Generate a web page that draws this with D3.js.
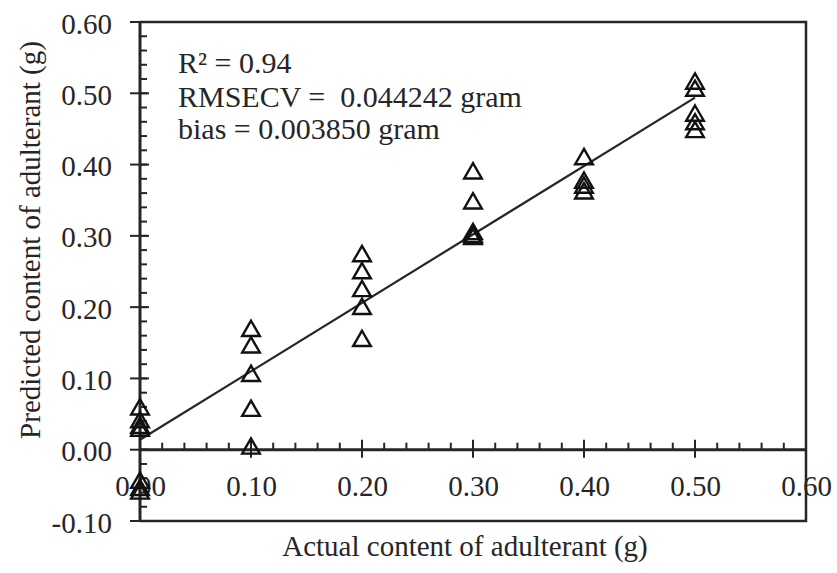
<!DOCTYPE html>
<html>
    <head>
        <meta charset="utf-8">
        <script src="https://d3js.org/d3.v7.min.js"></script>
    </head>
    <body style="margin:0;background:#fff">
        <script>
            // actual content (g) for each group of predictions
            var actual = [0.00, 0.10, 0.20, 0.30, 0.40, 0.50];
            // predicted values, one list per actual level
            var predicted = [
                [0.058, 0.040, 0.032, 0.028, -0.045, -0.055, -0.060],
                [0.168, 0.145, 0.105, 0.056, 0.003],
                [0.273, 0.249, 0.224, 0.199, 0.154],
                [0.389, 0.347, 0.304, 0.300, 0.297],
                [0.409, 0.376, 0.369, 0.361],
                [0.515, 0.505, 0.470, 0.458, 0.447]
            ];
            var fitLine = [[0.00, 0.014], [0.50, 0.494]];
            var xTicks = [0.00, 0.10, 0.20, 0.30, 0.40, 0.50, 0.60];
            var yTicks = [-0.10, 0.00, 0.10, 0.20, 0.30, 0.40, 0.50, 0.60];
            var notes = ["R\u00B2 = 0.94", "RMSECV =  0.044242 gram", "bias = 0.003850 gram"];

            var w = 837, h = 573;
            var mL = 140, mR = 806, mT = 22, mB = 521;
            var serif = "'Liberation Serif', 'Times New Roman', serif";
            var ink = "#262626";

            var xScale = d3.scaleLinear().domain([0, 0.6]).range([mL, mR]);
            var yScale = d3.scaleLinear().domain([-0.1, 0.6]).range([mB, mT]);
            var fmt = function(d){ return d3.format(".2f")(d).replace("\u2212", "-"); };

            var svg = d3.select("body").append("svg").attr("width", w).attr("height", h)
                .style("font-family", serif);

            // frame: top, right, bottom
            svg.append("path")
                .attr("d", "M" + mL + "," + mT + "H" + mR + "V" + mB + "H" + mL)
                .attr("fill", "none").attr("stroke", ink).attr("stroke-width", 2.5);

            var x0 = xScale(0), y0 = yScale(0);

            // minor ticks (every 0.02), drawn inside the plot
            var yMinor = d3.range(-0.1, 0.6001, 0.02);
            svg.selectAll(".ymin").data(yMinor).enter().append("line")
                .attr("class", "ymin")
                .attr("x1", x0).attr("x2", x0 + 7)
                .attr("y1", function(d){ return yScale(d); }).attr("y2", function(d){ return yScale(d); })
                .attr("stroke", ink).attr("stroke-width", 2);
            var xMinor = d3.range(0, 0.6001, 0.02);
            svg.selectAll(".xmin").data(xMinor).enter().append("line")
                .attr("class", "xmin")
                .attr("x1", function(d){ return xScale(d); }).attr("x2", function(d){ return xScale(d); })
                .attr("y1", y0).attr("y2", y0 - 7)
                .attr("stroke", ink).attr("stroke-width", 2);

            // major ticks cross the axis lines
            svg.selectAll(".ymaj").data(yTicks).enter().append("line")
                .attr("class", "ymaj")
                .attr("x1", x0 - 10).attr("x2", x0 + 9)
                .attr("y1", function(d){ return yScale(d); }).attr("y2", function(d){ return yScale(d); })
                .attr("stroke", ink).attr("stroke-width", 2);
            svg.selectAll(".xmaj").data(xTicks).enter().append("line")
                .attr("class", "xmaj")
                .attr("x1", function(d){ return xScale(d); }).attr("x2", function(d){ return xScale(d); })
                .attr("y1", y0 - 10).attr("y2", y0 + 8)
                .attr("stroke", ink).attr("stroke-width", 2);

            // axis labels and axis lines through the origin
            var gy = svg.append("g").attr("transform", "translate(" + x0 + ",0)")
                .call(d3.axisLeft(yScale).tickValues(yTicks).tickSize(10).tickPadding(18).tickFormat(fmt));
            gy.select(".domain").attr("d", "M0," + mT + "V" + mB);
            gy.selectAll(".tick text").attr("dy", "0.38em");

            var gx = svg.append("g").attr("transform", "translate(0," + y0 + ")")
                .call(d3.axisBottom(xScale).tickValues(xTicks).tickSize(8).tickPadding(18).tickFormat(fmt));
            gx.select(".domain").attr("d", "M" + mL + ",0H" + mR);

            svg.selectAll("g").attr("font-family", null).attr("font-size", null);
            svg.selectAll("g .tick text").style("font-family", serif).style("font-size", "29px").attr("fill", ink);
            svg.selectAll("g .tick line").remove();
            svg.selectAll(".domain").attr("stroke", ink).attr("stroke-width", 3);

            // regression line
            var line = d3.line().x(function(d){return xScale(d[0]);}).y(function(d){return yScale(d[1]);});
            svg.append("path").attr("d", line(fitLine))
                .attr("fill", "none").attr("stroke", ink).attr("stroke-width", 2.2);

            // open triangles
            var pts = [];
            actual.forEach(function(a, i){
                predicted[i].forEach(function(p){ pts.push([a, p]); });
            });
            var tri = d3.symbol().type(d3.symbolTriangle).size(135);
            svg.selectAll(".pt").data(pts).enter().append("path")
                .attr("class", "pt")
                .attr("d", tri)
                .attr("transform", function(d){ return "translate(" + xScale(d[0]) + "," + (yScale(d[1]) + 1) + ")"; })
                .attr("fill", "none").attr("stroke", "#111").attr("stroke-width", 2.4);

            // annotations
            svg.selectAll(".note").data(notes).enter().append("text")
                .attr("class", "note")
                .attr("x", 178)
                .attr("y", function(d, i){ return [73, 107, 139][i]; })
                .attr("fill", ink)
                .style("font-family", serif)
                .style("font-size", "30px")
                .style("white-space", "pre")
                .text(function(d){ return d; });

            // axis titles
            svg.append("text").attr("x", 465).attr("y", 556)
                .attr("text-anchor", "middle").attr("fill", ink)
                .style("font-family", serif).style("font-size", "29px")
                .text("Actual content of adulterant (g)");
            svg.append("text").attr("transform", "translate(40,240) rotate(-90)")
                .attr("text-anchor", "middle").attr("fill", ink)
                .style("font-family", serif).style("font-size", "29px")
                .text("Predicted content of adulterant (g)");
        </script>
    </body>
</html>
